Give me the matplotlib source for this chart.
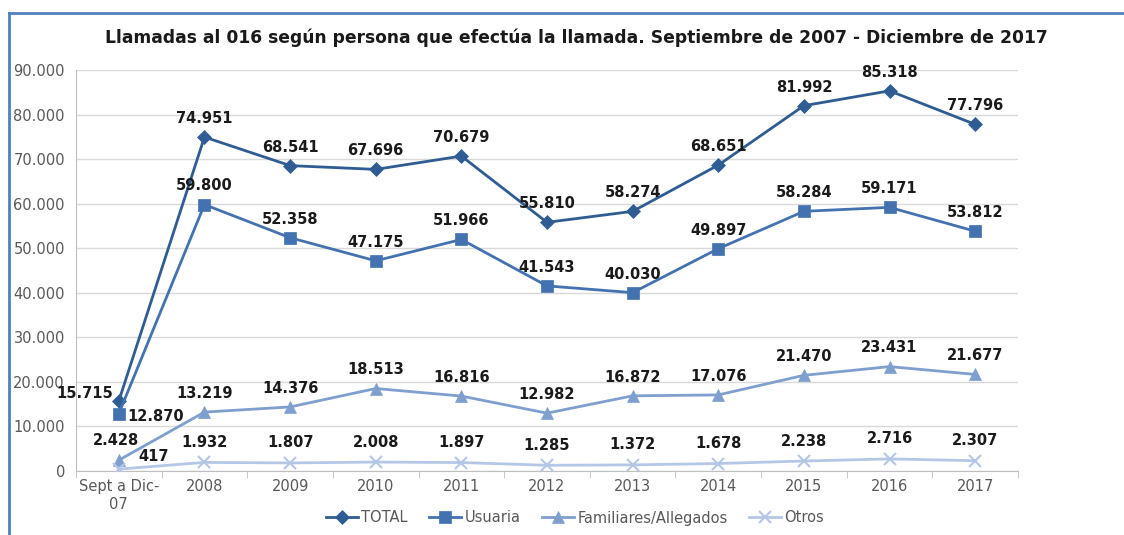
import matplotlib
matplotlib.use("Agg")
import matplotlib.pyplot as plt
from matplotlib.lines import Line2D
from matplotlib.ticker import FuncFormatter, FixedLocator

categories = ["Sept a Dic-\n07", "2008", "2009", "2010", "2011", "2012", "2013", "2014", "2015", "2016", "2017"]
total = [15715, 74951, 68541, 67696, 70679, 55810, 58274, 68651, 81992, 85318, 77796]
usuaria = [12870, 59800, 52358, 47175, 51966, 41543, 40030, 49897, 58284, 59171, 53812]
familiares = [2428, 13219, 14376, 18513, 16816, 12982, 16872, 17076, 21470, 23431, 21677]
otros = [417, 1932, 1807, 2008, 1897, 1285, 1372, 1678, 2238, 2716, 2307]
series_names = ["TOTAL", "Usuaria", "Familiares/Allegados", "Otros"]

plt.rcParams['font.family'] = ['DejaVu Sans']

fig = plt.figure(figsize=(11.24, 5.35), dpi=100)
ax = fig.add_axes([76/1124, 1-471/535, (1018-76)/1124, (471-70)/535])

x = list(range(len(categories)))
colors = ["#2F5C93", "#4472B0", "#7F9FCF", "#B4C7E7"]
markers = ["D", "s", "^", "x"]
msizes = [7, 8, 8, 9]
data = [total, usuaria, familiares, otros]
for vals, c, m, ms, name in zip(data, colors, markers, msizes, series_names):
    ax.plot(x, vals, color=c, lw=2, marker=m, markersize=ms, label=name,
            markeredgewidth=1.5 if m == "x" else 0.5, zorder=3)

def fmt(v):
    return f"{v:,}".replace(",", ".")

lab_kw = dict(fontsize=10.5, fontweight="bold", color="#1a1a1a", zorder=4)
for i, v in enumerate(total):
    if i == 0:
        ax.annotate(fmt(v), (i, v), xytext=(-4, 0), textcoords="offset points", ha="right", va="bottom", **lab_kw)
    else:
        ax.annotate(fmt(v), (i, v), xytext=(0, 8), textcoords="offset points", ha="center", va="bottom", **lab_kw)
for i, v in enumerate(usuaria):
    if i == 0:
        ax.annotate(fmt(v), (i, v), xytext=(6, -2), textcoords="offset points", ha="left", va="center", **lab_kw)
    else:
        ax.annotate(fmt(v), (i, v), xytext=(0, 8), textcoords="offset points", ha="center", va="bottom", **lab_kw)
for i, v in enumerate(familiares):
    if i == 0:
        ax.annotate(fmt(v), (i, v), xytext=(-2, 9), textcoords="offset points", ha="center", va="bottom", **lab_kw)
    else:
        ax.annotate(fmt(v), (i, v), xytext=(0, 8), textcoords="offset points", ha="center", va="bottom", **lab_kw)
for i, v in enumerate(otros):
    if i == 0:
        ax.annotate(fmt(v), (i, v), xytext=(14, 4), textcoords="offset points", ha="left", va="bottom", **lab_kw)
    else:
        ax.annotate(fmt(v), (i, v), xytext=(0, 9), textcoords="offset points", ha="center", va="bottom", **lab_kw)

ax.set_xlim(-0.5, len(categories) - 0.5)
ax.set_ylim(0, 90000)
ax.set_yticks(range(0, 90001, 10000))
ax.yaxis.set_major_formatter(FuncFormatter(lambda v, p: fmt(int(v))))
ax.set_xticks(x)
ax.set_xticklabels(categories)
ax.xaxis.set_minor_locator(FixedLocator([i - 0.5 for i in range(len(categories) + 1)]))
ax.tick_params(axis="x", which="major", length=0, pad=6, labelsize=10.5, labelcolor="#595959")
ax.tick_params(axis="x", which="minor", length=5, color="#BFBFBF", direction="out")
ax.tick_params(axis="y", length=0, pad=8, labelsize=10.5, labelcolor="#595959")
ax.grid(axis="y", color="#D9D9D9", lw=1)
ax.set_axisbelow(True)
for s in ["top", "right"]:
    ax.spines[s].set_visible(False)
ax.spines["left"].set_color("#BFBFBF")
ax.spines["bottom"].set_color("#BFBFBF")

fig.text(576/1124, 1-38/535, "Llamadas al 016 según persona que efectúa la llamada. Septiembre de 2007 - Diciembre de 2017",
         ha="center", va="center", fontsize=12.3, fontweight="bold", color="#1a1a1a")

ax.legend(loc="center", bbox_to_anchor=(575/1124, 1-518/535), bbox_transform=fig.transFigure,
          ncol=4, frameon=False, fontsize=10.5, handlelength=2.2, columnspacing=1.5, handletextpad=0.2,
          labelcolor="#595959")

# blue frame
fig.add_artist(Line2D([9/1124, 9/1124], [0, 1-13/535], transform=fig.transFigure, color="#4F81BD", lw=2))
fig.add_artist(Line2D([9/1124, 1], [1-13/535, 1-13/535], transform=fig.transFigure, color="#4F81BD", lw=2))

fig.savefig("out.png", dpi=100)
